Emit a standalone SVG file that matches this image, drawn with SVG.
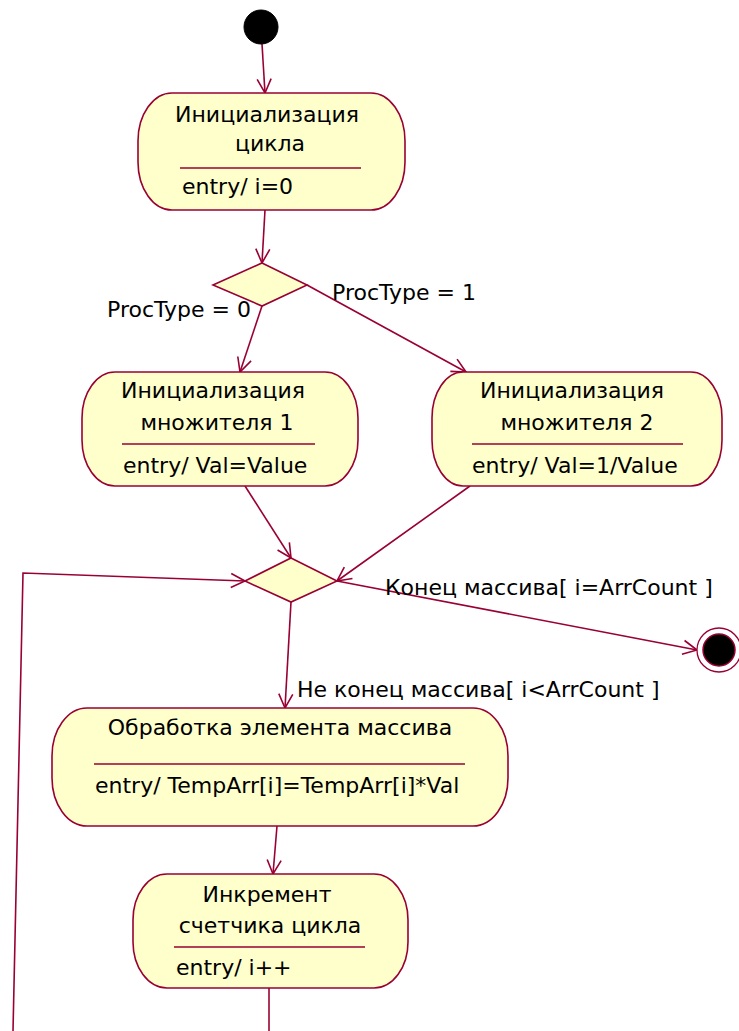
<svg xmlns="http://www.w3.org/2000/svg" width="739" height="1031" viewBox="0 0 739 1031">
<style>
.node{fill:#FFFFCC;stroke:#990033;stroke-width:1.6}
.sep{stroke:#990033;stroke-width:1.6}
.t{font-family:"DejaVu Sans",sans-serif;font-size:22px;fill:#000}
.c{text-anchor:middle}
.conn{fill:none;stroke:#990033;stroke-width:1.6}
</style>
<defs>
<marker id="arr" markerWidth="18" markerHeight="18" refX="16" refY="9" orient="auto" markerUnits="userSpaceOnUse">
<path d="M2,2 L16,9 L2,16" fill="none" stroke="#990033" stroke-width="1.6"/>
</marker>
</defs>
<rect width="739" height="1031" fill="#FFFFFF"/>
<g id="connectors">
<line class="conn" x1="262" y1="44" x2="265" y2="93" marker-end="url(#arr)"/>
<line class="conn" x1="265" y1="210" x2="262" y2="263" marker-end="url(#arr)"/>
<line class="conn" x1="262" y1="306" x2="240" y2="372" marker-end="url(#arr)"/>
<line class="conn" x1="307" y1="285" x2="466" y2="372" marker-end="url(#arr)"/>
<line class="conn" x1="245" y1="486" x2="291" y2="558" marker-end="url(#arr)"/>
<line class="conn" x1="470" y1="486" x2="337" y2="581" marker-end="url(#arr)"/>
<line class="conn" x1="337" y1="581" x2="697" y2="650" marker-end="url(#arr)"/>
<line class="conn" x1="291" y1="602" x2="285" y2="708" marker-end="url(#arr)"/>
<line class="conn" x1="277" y1="826" x2="273" y2="874" marker-end="url(#arr)"/>
<line class="conn" x1="269" y1="988" x2="269" y2="1031"/>
<polyline class="conn" points="13,1031 23,573 245,581" marker-end="url(#arr)"/>
<text class="t" x="107" y="317">ProcType = 0</text>
<text class="t" x="332" y="300">ProcType = 1</text>
<text class="t" x="385" y="595">Конец массива[ i=ArrCount ]</text>
<text class="t" x="297" y="697">Не конец массива[ i&lt;ArrCount ]</text>
</g>
<g id="start">
<circle cx="261" cy="27" r="17" fill="#000" stroke="#000" stroke-width="1"/>
</g>
<g id="node-init-loop">
<rect class="node" x="138" y="93" width="267" height="117" rx="34" ry="48"/>
<text class="t c" x="267" y="122">Инициализация</text>
<text class="t c" x="270" y="151">цикла</text>
<line class="sep" x1="180" y1="168" x2="361" y2="168"/>
<text class="t" x="182" y="194">entry/ i=0</text>
</g>
<g id="decision-1">
<polygon class="node" points="262,263 307,285 262,306 213,285"/>
</g>
<g id="node-mult-1">
<rect class="node" x="82" y="372" width="276" height="114" rx="33" ry="46"/>
<text class="t c" x="213" y="398">Инициализация</text>
<text class="t c" x="217" y="430">множителя 1</text>
<line class="sep" x1="122" y1="444" x2="315" y2="444"/>
<text class="t" x="123" y="473">entry/ Val=Value</text>
</g>
<g id="node-mult-2">
<rect class="node" x="432" y="372" width="290" height="114" rx="31" ry="46"/>
<text class="t c" x="572" y="398">Инициализация</text>
<text class="t c" x="577" y="430">множителя 2</text>
<line class="sep" x1="472" y1="444" x2="683" y2="444"/>
<text class="t" x="472" y="473">entry/ Val=1/Value</text>
</g>
<g id="decision-2">
<polygon class="node" points="291,558 337,581 291,602 245,581"/>
</g>
<g id="final">
<circle cx="719" cy="650" r="22" fill="#FFFFFF" stroke="#990033" stroke-width="1.3"/>
<circle cx="719" cy="650" r="16" fill="#000" stroke="#990033" stroke-width="1.5"/>
</g>
<g id="node-process">
<rect class="node" x="52" y="708" width="456" height="118" rx="35" ry="48"/>
<text class="t c" x="280" y="735">Обработка элемента массива</text>
<line class="sep" x1="94" y1="764" x2="465" y2="764"/>
<text class="t" x="95" y="793">entry/ TempArr[i]=TempArr[i]*Val</text>
</g>
<g id="node-increment">
<rect class="node" x="133" y="874" width="275" height="114" rx="34" ry="46"/>
<text class="t c" x="267" y="902">Инкремент</text>
<text class="t c" x="270" y="933">счетчика цикла</text>
<line class="sep" x1="174" y1="947" x2="365" y2="947"/>
<text class="t" x="176" y="975">entry/ i++</text>
</g>
</svg>
